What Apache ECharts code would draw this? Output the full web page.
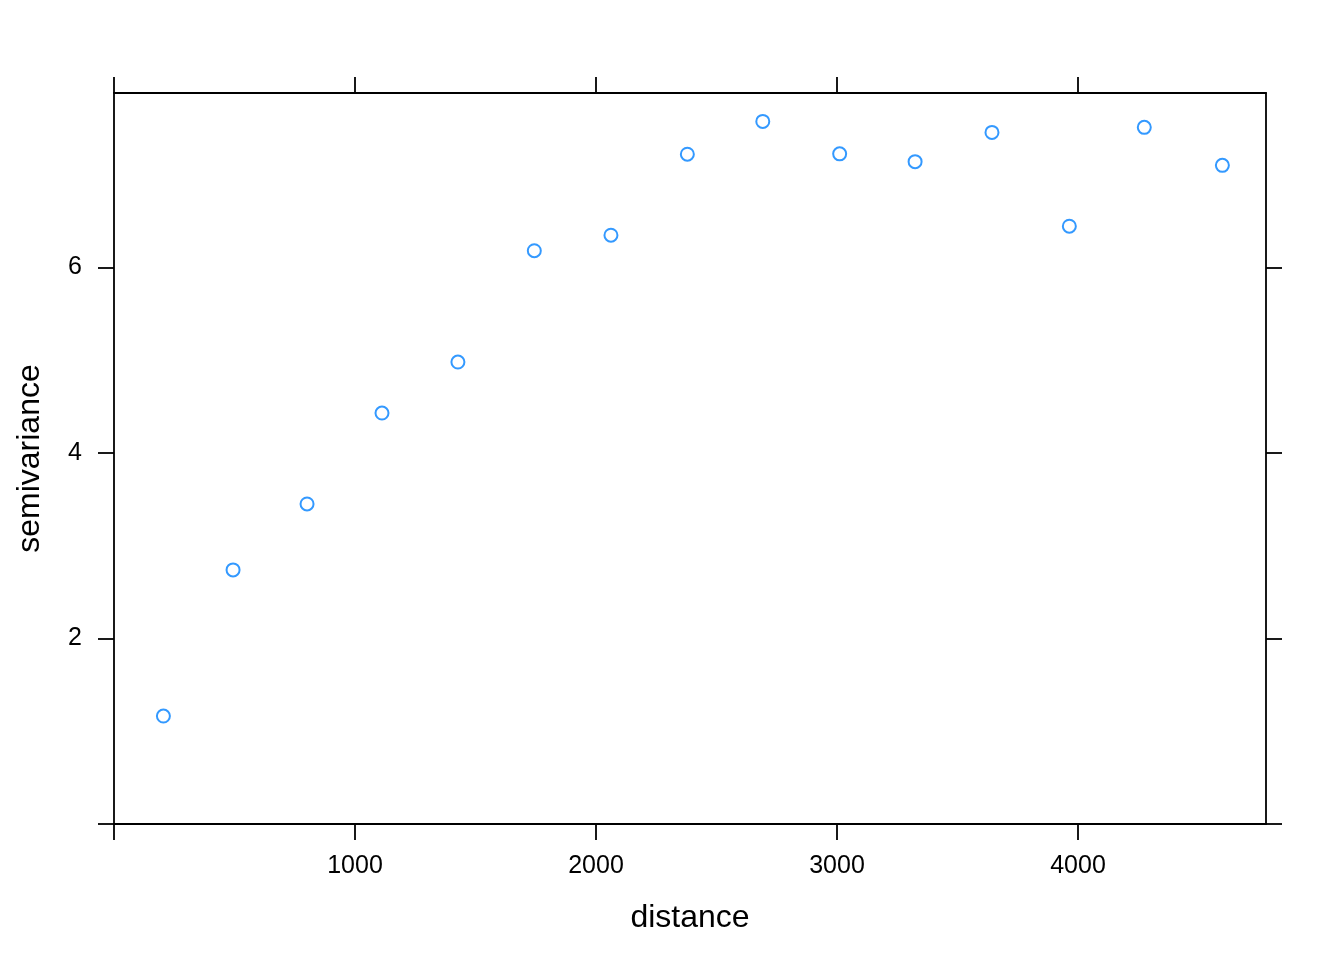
<!DOCTYPE html>
<html>
<head>
<meta charset="utf-8">
<script src="https://cdn.jsdelivr.net/npm/echarts@6/dist/echarts.min.js"></script>
<style>
  html, body { margin: 0; padding: 0; background: #fff; }
  #chart { width: 1344px; height: 960px; }
</style>
</head>
<body>
<div id="chart"></div>
<script>
// sample variogram: lag distance vs semivariance
const distance = [205, 494, 801, 1112, 1427, 1744, 2062, 2379, 2692, 3011, 3324, 3643, 3964, 4275, 4599];
const semivariance = [1.164, 2.739, 3.45, 4.43, 4.98, 6.18, 6.347, 7.22, 7.574, 7.224, 7.14, 7.455, 6.444, 7.51, 7.10];
const xTicks = [0, 1000, 2000, 3000, 4000];
const xLabels = [1000, 2000, 3000, 4000];
const yTicks = [0, 2, 4, 6];
const yLabels = [2, 4, 6];

const chart = echarts.init(document.getElementById('chart'));
const font = 'Liberation Sans, Arial, Helvetica, sans-serif';
const lineStyle = { color: '#000', width: 1.8 };

function xAxis(pos, withLabels) {
  return {
    type: 'value', position: pos, min: 0, max: 4780,
    name: withLabels ? 'distance' : '', nameLocation: 'middle', nameGap: 78,
    nameTextStyle: { color: '#000', fontSize: 32, fontFamily: font },
    axisLine: { show: true, onZero: false, lineStyle: lineStyle },
    axisTick: { show: true, inside: false, length: 16, lineStyle: lineStyle, customValues: xTicks },
    axisLabel: {
      show: withLabels, margin: 30, color: '#000', fontSize: 25, fontFamily: font,
      customValues: xLabels, formatter: v => String(v)
    },
    splitLine: { show: false }
  };
}

function yAxis(pos, withLabels) {
  return {
    type: 'value', position: pos, min: 0, max: 7.88,
    name: withLabels ? 'semivariance' : '', nameLocation: 'middle', nameGap: 68,
    nameTextStyle: { color: '#000', fontSize: 32, fontFamily: font },
    axisLine: { show: true, onZero: false, lineStyle: lineStyle },
    axisTick: { show: true, inside: false, length: 16, lineStyle: lineStyle, customValues: yTicks },
    axisLabel: {
      show: withLabels, margin: 32, color: '#000', fontSize: 25, fontFamily: font,
      customValues: yLabels, formatter: v => String(v)
    },
    splitLine: { show: false }
  };
}

const points = distance.map((d, i) => [d, semivariance[i]]);

chart.setOption({
  backgroundColor: '#fff',
  animation: false,
  grid: { left: 114, top: 93, width: 1152, height: 731 },
  xAxis: [xAxis('bottom', true), xAxis('top', false)],
  yAxis: [yAxis('left', true), yAxis('right', false)],
  series: [{
    type: 'scatter',
    data: points,
    symbol: 'circle',
    symbolSize: 13,
    itemStyle: { color: 'rgba(255,255,255,0)', borderColor: '#0080ff', borderWidth: 2 }
  }]
});
</script>
</body>
</html>
